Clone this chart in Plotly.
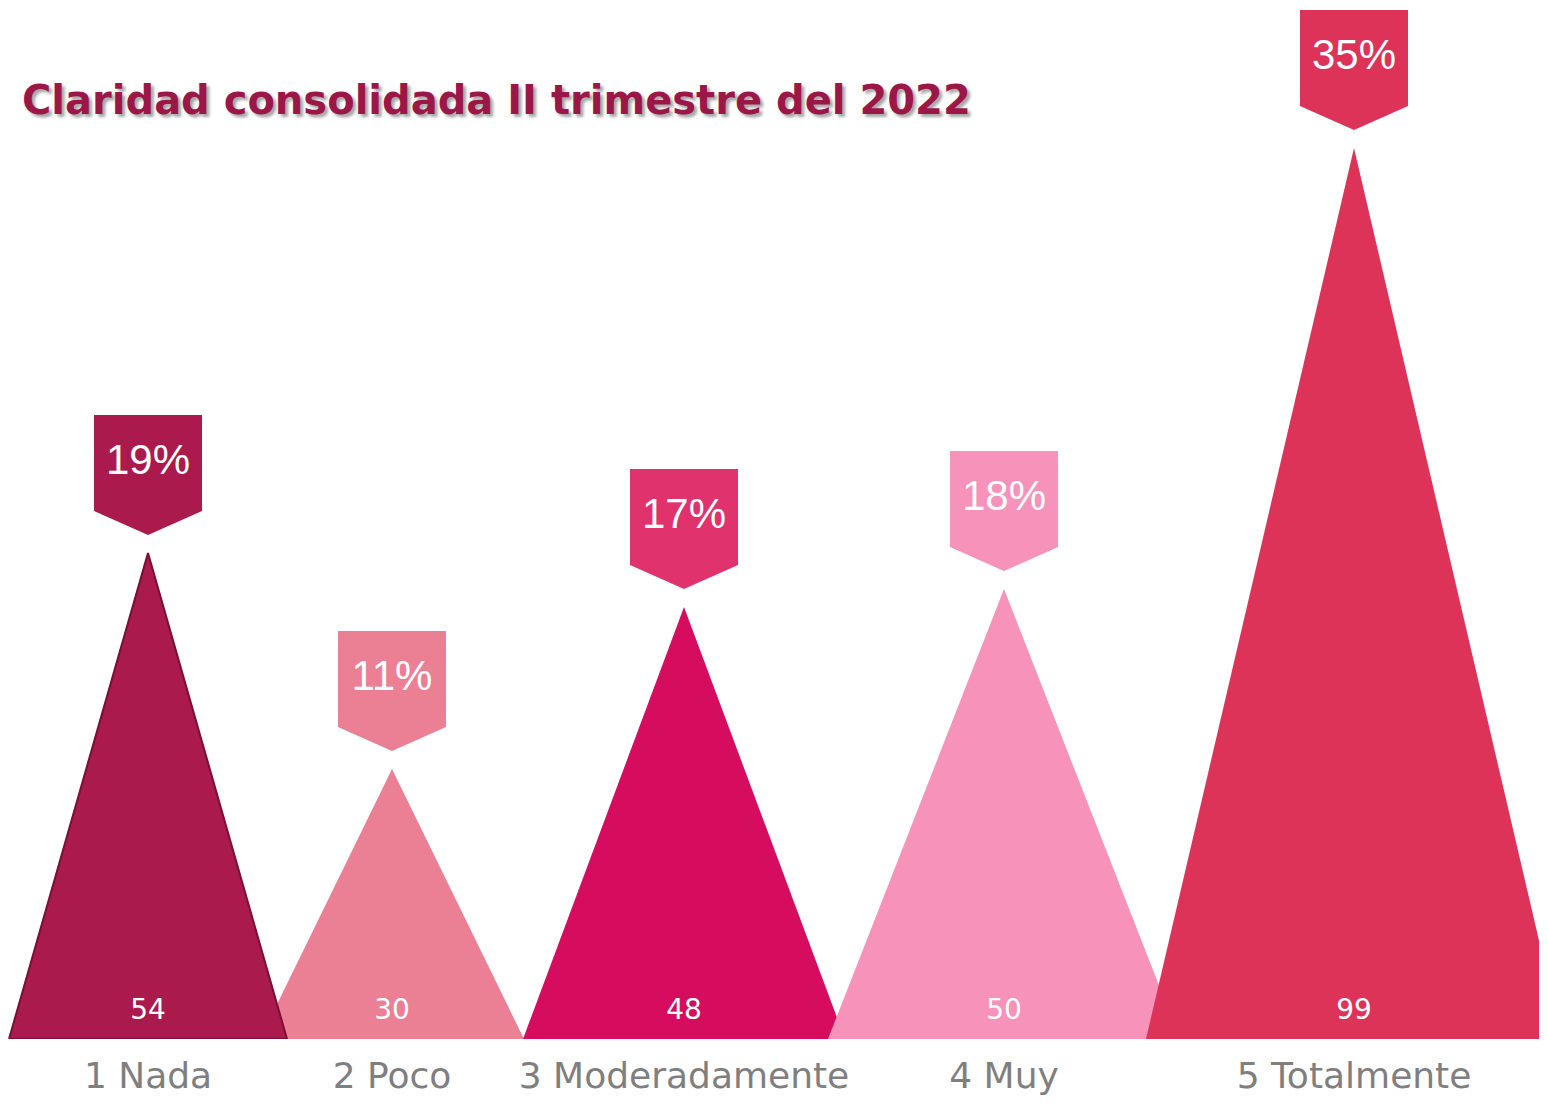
import plotly.graph_objects as go

# ---------------- data ----------------
categories = ["1 Nada", "2 Poco", "3 Moderadamente", "4 Muy", "5 Totalmente"]
counts = [54, 30, 48, 50, 99]
percents = [19, 11, 17, 18, 35]
title_text = "Claridad consolidada II trimestre del 2022"

# ---------------- style ----------------
PAGE_OFF = 8              # browser body margin
W, H = 1547, 1105 - 2 * PAGE_OFF
BASE_PX = 1039 - PAGE_OFF  # pixel row of the baseline inside the figure
PX_PER_UNIT = 9.0          # vertical scale
CENTER_X = [c - PAGE_OFF for c in [148, 392, 684, 1004, 1354]]
HALF_W = [139, 132, 161, 176, 208]
TRI_COLORS = ["#AB1A4C", "#EB8095", "#D60D5F", "#F792BB", "#DE3358"]
CALLOUT_COLORS = ["#AB1A4C", "#EB8095", "#E0336E", "#F792BB", "#DE3358"]
DRAW_ORDER = [1, 0, 2, 3, 4]
u = 1.0 / PX_PER_UNIT      # data units per pixel
Y_MAX = BASE_PX / PX_PER_UNIT

GAP_PX, ARROW_PX, BOX_PX, BOX_HALF_W = 18, 24, 96, 54

fig = go.Figure()

# triangles
for i in DRAW_ORDER:
    c, hw, v = CENTER_X[i], HALF_W[i], counts[i]
    fig.add_trace(go.Scatter(
        x=[c - hw, c, c + hw, c - hw], y=[0, v, 0, 0],
        mode="lines", fill="toself", fillcolor=TRI_COLORS[i],
        line=dict(color="#7A0F38" if i == 0 else TRI_COLORS[i], width=2 if i == 0 else 0),
        hoverinfo="skip", showlegend=False))

# callouts
for i in range(len(categories)):
    c, v = CENTER_X[i], counts[i]
    tip = v + GAP_PX * u
    bottom = tip + ARROW_PX * u
    top = bottom + BOX_PX * u
    fig.add_trace(go.Scatter(
        x=[c - BOX_HALF_W, c - BOX_HALF_W, c + BOX_HALF_W, c + BOX_HALF_W, c, c - BOX_HALF_W],
        y=[bottom, top, top, bottom, tip, bottom],
        mode="lines", fill="toself", fillcolor=CALLOUT_COLORS[i],
        line=dict(width=0, color=CALLOUT_COLORS[i]),
        hoverinfo="skip", showlegend=False))
    fig.add_trace(go.Scatter(
        x=[c], y=[(bottom + top) / 2], mode="text", text=[f"{percents[i]}%"],
        textposition="middle center",
        textfont=dict(family="Liberation Sans, Arial, sans-serif", size=42, color="white"),
        hoverinfo="skip", showlegend=False))

# value labels
fig.add_trace(go.Scatter(
    x=CENTER_X, y=[27 * u] * len(counts), mode="text",
    text=[str(v) for v in counts], textposition="middle center",
    textfont=dict(family="DejaVu Sans, sans-serif", size=28, color="white"),
    hoverinfo="skip", showlegend=False))

fig.update_layout(
    width=W, height=H,
    margin=dict(l=0, r=0, t=0, b=H - BASE_PX),
    paper_bgcolor="white", plot_bgcolor="white",
    hovermode=False,
    title=dict(
        text=title_text, x=(22 - PAGE_OFF) / W, xanchor="left", xref="paper",
        y=1 - (100 - PAGE_OFF) / H, yanchor="middle", yref="container",
        font=dict(family="DejaVu Sans, sans-serif", size=40, color="#9B1748",
                  weight="bold", shadow="3px 3px 3px rgba(0,0,0,0.35)")),
    xaxis=dict(range=[0, W], showgrid=False, zeroline=False, showline=False,
               tickmode="array", tickvals=CENTER_X, ticktext=categories,
               ticks="", ticklabelstandoff=12,
               tickfont=dict(family="DejaVu Sans, sans-serif", size=36, color="#7F7F7F"),
               fixedrange=True),
    yaxis=dict(range=[0, Y_MAX], visible=False, fixedrange=True),
)

fig.write_html("out.html")
